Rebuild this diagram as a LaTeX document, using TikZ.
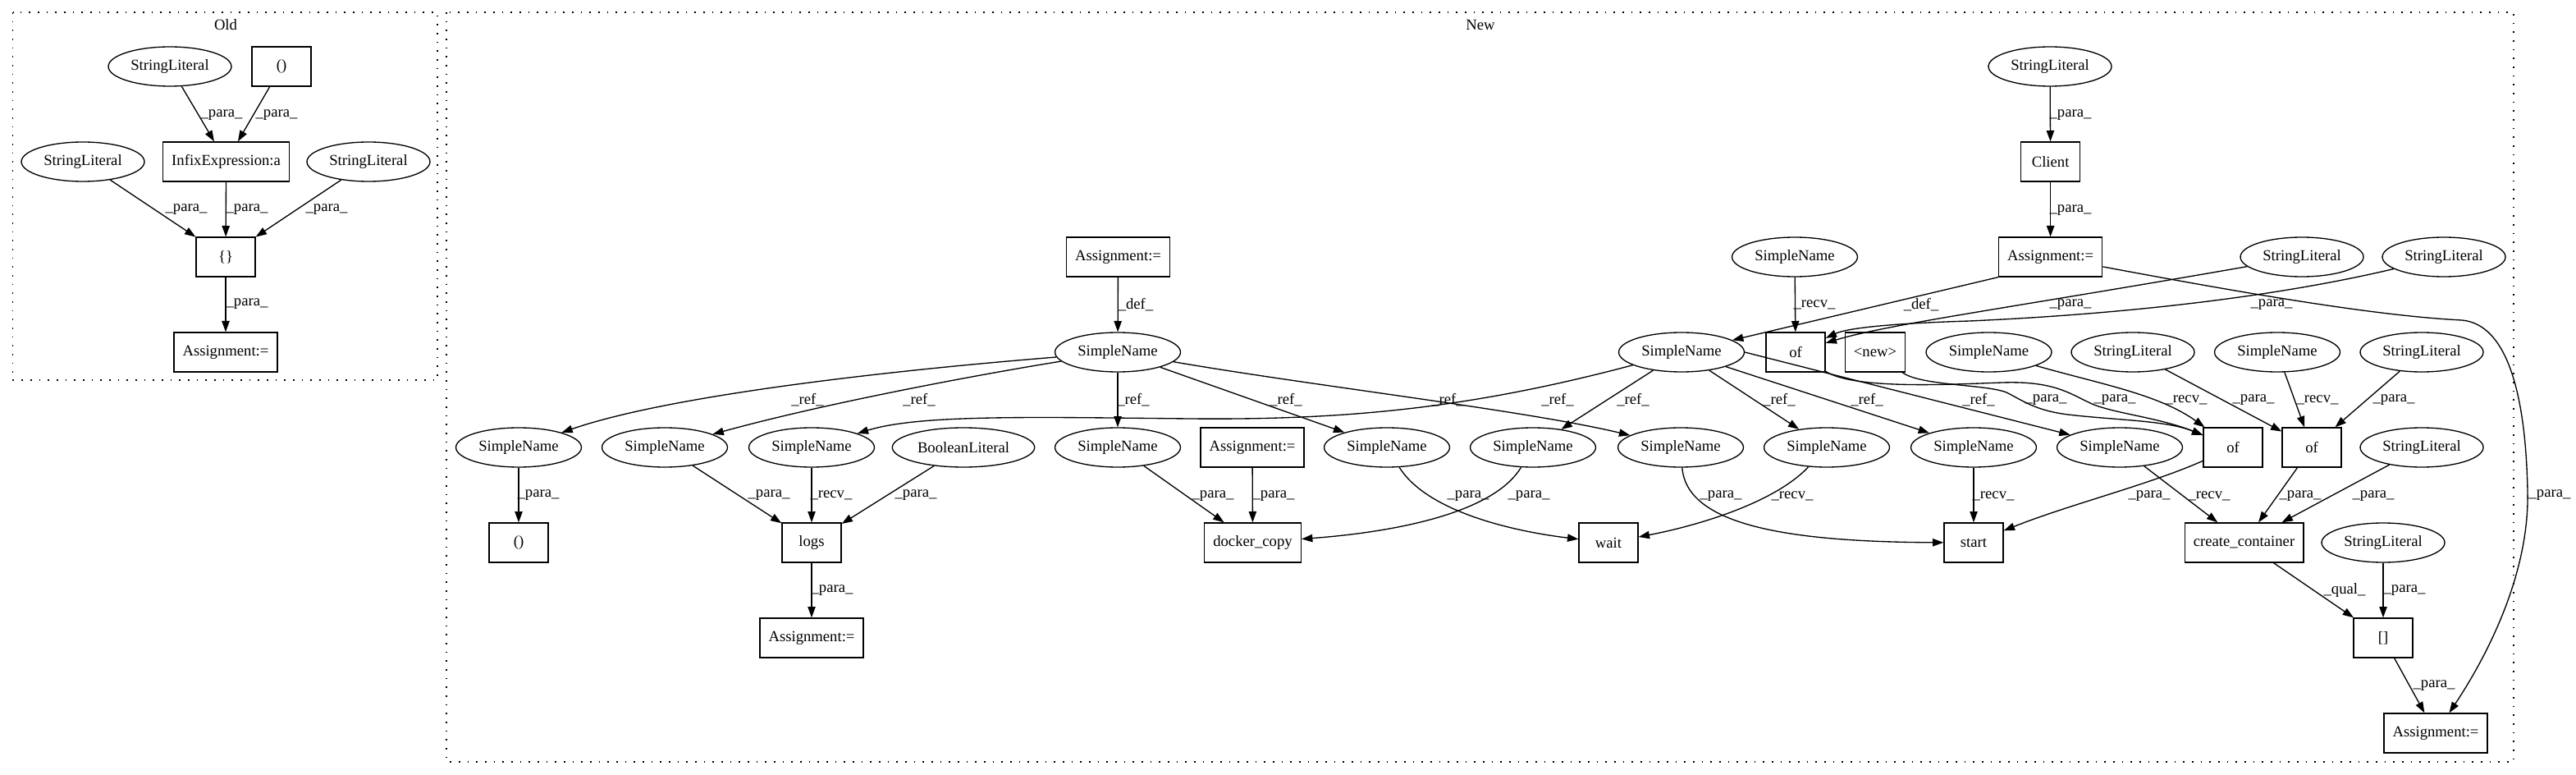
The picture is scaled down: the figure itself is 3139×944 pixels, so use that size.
\documentclass[tikz,border=0pt]{standalone}
\usepackage{fontspec}
\setmainfont{Liberation Serif}
\usetikzlibrary{shapes.geometric,arrows.meta}

\tikzset{
	box/.style={draw, rectangle, line width=1pt, inner xsep=8pt, inner ysep=2pt, minimum width=54pt, minimum height=36pt},
	oval/.style={draw, ellipse, line width=1pt, inner xsep=4pt, inner ysep=2pt, minimum width=54pt, minimum height=36pt},
	flow/.style={line width=1pt, -{Triangle[length=10pt, width=7pt]}},
	tag/.style={inner sep=0pt},
	cluster/.style={line width=1pt, dash pattern=on 1.2pt off 6.8pt}
}

\begin{document}
\begin{tikzpicture}[x=0.75pt, y=-0.75pt, font=\fontsize{14}{17}\selectfont]
	\useasboundingbox (0,0) rectangle (3139,944);

	% clusters
	\draw[cluster] (15.6,15) rectangle (533,463);
	\node (old) at (275,30) {Old};
	\draw[cluster] (544,15) rectangle (3063,928);
	\node (new) at (1804,30) {New};

	% old version
	\node[oval] (osl1) at (207,81) {StringLiteral};
	\node[box] (ocall) at (343,81) {()};
	\node[oval] (osl2) at (101,197) {StringLiteral};
	\node[box] (oinfix) at (275.6,197) {InfixExpression:a};
	\node[oval] (osl3) at (449,197) {StringLiteral};
	\node[box] (obrace) at (275,313) {\{\}};
	\node[box] (oasg) at (275,429) {Assignment:=};

	\draw[flow] (osl1) -- (oinfix) node[tag] at (270,140) {\_para\_};
	\draw[flow] (ocall) -- (oinfix) node[tag] at (337,140) {\_para\_};
	\draw[flow] (osl2) -- (obrace) node[tag] at (227,255) {\_para\_};
	\draw[flow] (oinfix) -- (obrace) node[tag] at (301,255) {\_para\_};
	\draw[flow] (osl3) -- (obrace) node[tag] at (398,255) {\_para\_};
	\draw[flow] (obrace) -- (oasg) node[tag] at (301,370) {\_para\_};

	% new version
	\node[oval] (sl0) at (2498,81) {StringLiteral};
	\node[box] (client) at (2498.6,197) {Client};

	\node[box] (asg1) at (1362.5,313) {Assignment:=};
	\node[oval] (sn0) at (2187,313) {SimpleName};
	\node[box] (asg2) at (2498.6,313) {Assignment:=};
	\node[oval] (sl1) at (2805,313) {StringLiteral};
	\node[oval] (sl2) at (2978,313) {StringLiteral};

	\node[oval] (var1) at (1362,429) {SimpleName};
	\node[oval] (var2) at (2049,429) {SimpleName};
	\node[box] (of1) at (2188,429) {of};
	\node[box] (newop) at (2285,429) {<new>};
	\node[oval] (sn1) at (2423.5,429) {SimpleName};
	\node[oval] (sl3) at (2599,429) {StringLiteral};
	\node[oval] (sn2) at (2775,429) {SimpleName};
	\node[oval] (sl4) at (2951,429) {StringLiteral};

	\node[oval] (sn3) at (632,545) {SimpleName};
	\node[oval] (sn4) at (810,545) {SimpleName};
	\node[oval] (sn5) at (989,545) {SimpleName};
	\node[oval] (bool) at (1174,545) {BooleanLiteral};
	\node[oval] (sn6) at (1362,545) {SimpleName};
	\node[box] (asg3) at (1526,545) {Assignment:=};
	\node[oval] (sn7) at (1690,545) {SimpleName};
	\node[oval] (sn8) at (1868,545) {SimpleName};
	\node[oval] (sn9) at (2048,545) {SimpleName};
	\node[oval] (sn10) at (2226,545) {SimpleName};
	\node[oval] (sn11) at (2405,545) {SimpleName};
	\node[oval] (sn12) at (2583,545) {SimpleName};
	\node[box] (of2) at (2721,545) {of};
	\node[box] (of3) at (2817,545) {of};
	\node[oval] (sl5) at (2951,545) {StringLiteral};

	\node[box] (call) at (632,661) {()};
	\node[box] (logs) at (989,661) {logs};
	\node[box] (copy) at (1526.5,661) {docker\_copy};
	\node[box] (wait) at (1960,661) {wait};
	\node[box] (start) at (2405,661) {start};
	\node[box] (create) at (2734.5,661) {create\_container};
	\node[oval] (sl6) at (2904,661) {StringLiteral};

	\node[box] (asg4) at (989,777) {Assignment:=};
	\node[box] (index) at (2904,777) {[]};
	\node[box] (asg5) at (2968,893) {Assignment:=};

	\draw[flow] (sl0) -- (client) node[tag] at (2523,140) {\_para\_};
	\draw[flow] (client) -- (asg2) node[tag] at (2523,256) {\_para\_};
	\draw[flow] (asg1) -- (var1) node[tag] at (1384,371) {\_def\_};
	\draw[flow] (sn0) -- (of1) node[tag] at (2211,371) {\_recv\_};
	\draw[flow] (asg2.south west) -- (var2) node[tag] at (2341,371) {\_def\_};
	\draw[flow] (sl1) .. controls (2450,375) and (2300,395) .. (of1) node[tag] at (2523,371) {\_para\_};
	\draw[flow] (sl2) .. controls (2780,360) and (2600,382) .. (2400,391) .. controls (2300,394) and (2250,400) .. (of1) node[tag] at (2768,371) {\_para\_};
	\draw[flow] (asg2) .. controls (2750,360) and (2900,385) .. (3000,390) .. controls (3055,395) and (3078,480) .. (3080,600) .. controls (3082,700) and (3030,800) .. (asg5) node[tag] at (3107,603) {\_para\_};

	% references of the two variables
	\draw[flow] (var1) .. controls (1100,450) and (820,480) .. (sn3) node[tag] at (984,487) {\_ref\_};
	\draw[flow] (var1) .. controls (1200,455) and (1010,490) .. (sn4) node[tag] at (1120,487) {\_ref\_};
	\draw[flow] (var1) -- (sn6) node[tag] at (1381,487) {\_ref\_};
	\draw[flow] (var1) -- (sn7) node[tag] at (1567,487) {\_ref\_};
	\draw[flow] (var1) .. controls (1600,470) and (1860,500) .. (sn9) node[tag] at (1764,487) {\_ref\_};
	\draw[flow] (var2) .. controls (1800,495) and (1650,512) .. (1450,510) .. controls (1250,508) and (1120,505) .. (sn5) node[tag] at (1898,487) {\_ref\_};
	\draw[flow] (var2) -- (sn8) node[tag] at (1990,487) {\_ref\_};
	\draw[flow] (var2) -- (sn10) node[tag] at (2168,487) {\_ref\_};
	\draw[flow] (var2) -- (sn11) node[tag] at (2275,487) {\_ref\_};
	\draw[flow] (var2.east) -- (sn12) node[tag] at (2411,487) {\_ref\_};

	\draw[flow] (of1) .. controls (2260,475) and (2380,468) .. (2440,466) .. controls (2500,464) and (2520,478) .. (2545,490) .. controls (2570,503) and (2630,508) .. (of2) node[tag] at (2577,487) {\_para\_};
	\draw[flow] (newop) .. controls (2340,470) and (2420,468) .. (2445,478) .. controls (2465,488) and (2480,500) .. (2520,505) .. controls (2580,512) and (2640,512) .. (of2) node[tag] at (2493,487) {\_para\_};
	\draw[flow] (sn1) .. controls (2560,468) and (2630,480) .. (of2) node[tag] at (2664,487) {\_recv\_};
	\draw[flow] (sl3) -- (of3) node[tag] at (2746,487) {\_para\_};
	\draw[flow] (sn2) -- (of3) node[tag] at (2824,487) {\_recv\_};
	\draw[flow] (sl4) -- (of3) node[tag] at (2917,487) {\_para\_};

	% calls
	\draw[flow] (sn3) -- (call) node[tag] at (656,603) {\_para\_};
	\draw[flow] (sn4) -- (logs) node[tag] at (937,603) {\_para\_};
	\draw[flow] (sn5) -- (logs) node[tag] at (1013,603) {\_recv\_};
	\draw[flow] (bool) -- (logs) node[tag] at (1116,603) {\_para\_};
	\draw[flow] (logs) -- (asg4) node[tag] at (1014,719) {\_para\_};
	\draw[flow] (sn6) -- (copy) node[tag] at (1478,604) {\_para\_};
	\draw[flow] (asg3) -- (copy) node[tag] at (1552,604) {\_para\_};
	\draw[flow] (sn8) .. controls (1820,625) and (1700,648) .. (copy) node[tag] at (1863,604) {\_para\_};
	\draw[flow] (sn7) .. controls (1740,625) and (1850,648) .. (wait) node[tag] at (1789,604) {\_para\_};
	\draw[flow] (sn10) .. controls (2160,615) and (2060,642) .. (wait) node[tag] at (2184,604) {\_recv\_};
	\draw[flow] (sn9) .. controls (2055,640) and (2180,660) .. (start) node[tag] at (2097,604) {\_para\_};
	\draw[flow] (sn11) -- (start) node[tag] at (2429,604) {\_recv\_};
	\draw[flow] (of2) .. controls (2620,590) and (2520,615) .. (start) node[tag] at (2619,604) {\_para\_};
	\draw[flow] (sn12) -- (create) node[tag] at (2692,604) {\_recv\_};
	\draw[flow] (of3) -- (create) node[tag] at (2803,604) {\_para\_};
	\draw[flow] (sl5) -- (create) node[tag] at (2892,604) {\_para\_};
	\draw[flow] (create) -- (index) node[tag] at (2857,719) {\_qual\_};
	\draw[flow] (sl6) -- (index) node[tag] at (2930,719) {\_para\_};
	\draw[flow] (index) -- (asg5) node[tag] at (2966,835) {\_para\_};
\end{tikzpicture}
\end{document}
